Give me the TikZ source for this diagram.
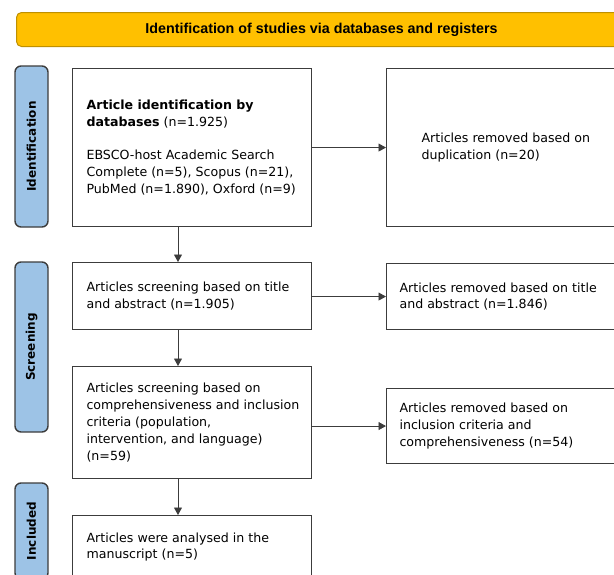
\documentclass[tikz,border=0pt]{standalone}
\usepackage{fontspec}
\setmainfont{DejaVu Sans}
\newfontfamily\bannerfont{Liberation Sans}
\usepackage{tikz}
\usetikzlibrary{arrows.meta,calc}
\definecolor{prismayellow}{RGB}{255, 192, 0}
\definecolor{prismagold}{RGB}{191, 144, 0}
\definecolor{prismablue}{RGB}{157, 195, 230}
\definecolor{prismaline}{RGB}{60, 60, 60}

\begin{document}
\begin{tikzpicture}[
    x=1pt, y=-1pt,
    font=\fontsize{12.6}{16.8}\selectfont,
    banner/.style={draw=prismagold, fill=prismayellow, line width=1pt,
        rounded corners=5pt, anchor=north west, minimum width=610pt,
        minimum height=34pt, font=\bannerfont\bfseries\fontsize{14.3}{16}\selectfont},
    phase/.style={draw=prismaline, fill=prismablue, line width=1.4pt,
        rounded corners=6pt, rotate=90, minimum height=33pt,
        font=\bfseries\fontsize{12}{14}\selectfont},
    stagebox/.style={draw=prismaline, line width=1.1pt, anchor=north west,
        align=flush left, inner xsep=14pt, text width=211pt},
    removebox/.style={stagebox, inner xsep=13pt, text width=224pt},
    flow/.style={draw=prismaline, line width=0.8pt,
        -{Triangle[length=7.5pt,width=8pt]}}
]
    \useasboundingbox (0,0) rectangle (614,574);
    \clip (0,0) rectangle (614,574);

    % Header
    \node[banner] (title) at (16,12) {Identification of studies via databases and registers};

    % Phases
    \node[phase, minimum width=161pt] (identlab) at (31.5,146.5) {Identification};
    \node[phase, minimum width=170pt] (screenlab) at (31.5,347) {Screening};
    \node[phase, minimum width=96pt] (inclab) at (31.5,531) {Included};

    % Main column
    \node[stagebox, minimum height=158pt] (ident) at (72,68)
        {\textbf{Article identification by}\\
         \textbf{databases} (n=1.925)\\[16.8pt]
         EBSCO-host Academic Search\\
         Complete (n=5), Scopus (n=21),\\
         PubMed (n=1.890), Oxford (n=9)};
    \node[stagebox, minimum height=67pt] (screen) at (72,262)
        {Articles screening based on title\\
         and abstract (n=1.905)};
    \node[stagebox, minimum height=112pt] (elig) at (72,366)
        {Articles screening based on\\
         \mbox{comprehensiveness and inclusion}\\
         criteria (population,\\
         intervention, and language)\\
         (n=59)};
    \node[stagebox, minimum height=63pt] (incl) at (72,515)
        {Articles were analysed in the\\
         manuscript (n=5)};

    % Removed column
    \node[removebox, inner xsep=35pt, text width=180pt, minimum height=158pt] (dup) at (386,68)
        {Articles removed based on\\
         duplication (n=20)};
    \node[removebox, minimum height=66pt] (remtitle) at (386,263)
        {Articles removed based on title\\
         and abstract (n=1.846)};
    \node[removebox, minimum height=75pt] (remcrit) at (386,388)
        {Articles removed based on\\
         inclusion criteria and\\
         comprehensiveness (n=54)};

    % Connectors
    \coordinate (spine) at (178,0);
    \draw[flow] (ident.south -| spine) -- (screen.north -| spine);
    \draw[flow] (screen.south -| spine) -- (elig.north -| spine);
    \draw[flow] (elig.south -| spine) -- (incl.north -| spine);
    \draw[flow] (ident.east |- dup.west) -- (dup.west);
    \draw[flow] (screen.east |- remtitle.west) -- (remtitle.west);
    \draw[flow] (elig.east |- remcrit.west) -- (remcrit.west);
\end{tikzpicture}
\end{document}
